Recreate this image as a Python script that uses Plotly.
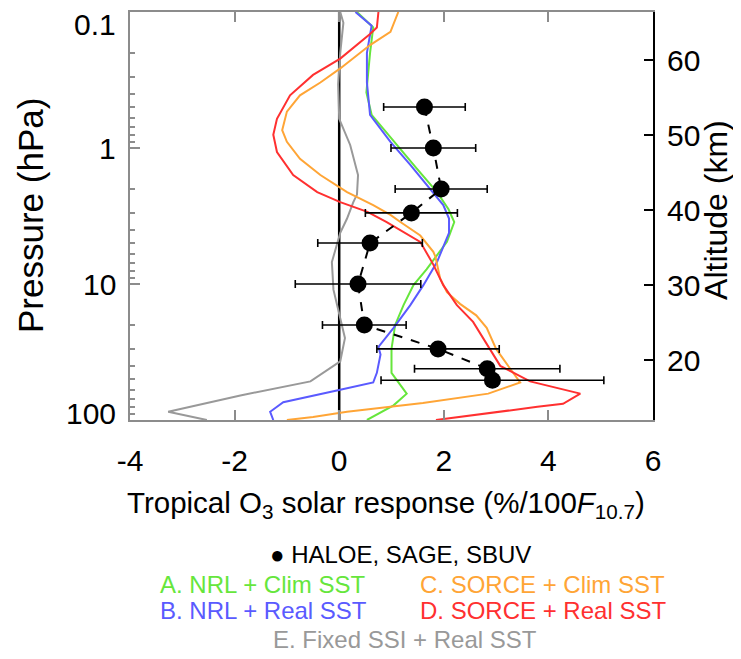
import math
import plotly.graph_objects as go

# ---------------- data ----------------
# A. NRL + Clim SST (green)
a_p = [0.1, 0.13, 0.2, 0.39, 0.57, 0.95, 1.41, 2.11, 2.82, 3.5, 4.9, 7.8, 10.2, 14.3, 20, 30, 45, 64, 78, 100]
a_v = [0.34, 0.65, 0.59, 0.52, 0.62, 1.10, 1.48, 1.87, 2.09, 2.20, 2.06, 1.67, 1.42, 1.23, 1.07, 1.00, 1.00, 1.29, 1.04, 0.53]

# B. NRL + Real SST (blue)
b_p = [0.1, 0.126, 0.2, 0.33, 0.57, 0.9, 1.33, 2.0, 2.63, 3.3, 4.2, 6.9, 10.2, 14.3, 21, 29, 33, 45, 53, 60, 74, 87, 100]
b_v = [0.31, 0.62, 0.53, 0.53, 0.59, 0.98, 1.36, 1.74, 1.99, 2.10, 2.10, 1.87, 1.61, 1.36, 1.04, 0.75, 0.79, 0.72, 0.65, 0.02, -1.07, -1.32, -1.26]

# C. SORCE + Clim SST (orange)
c_p = [0.1, 0.14, 0.175, 0.26, 0.33, 0.41, 0.54, 0.74, 0.9, 1.2, 1.58, 2.11, 2.63, 3.1, 3.5, 4.4, 5.8, 6.3, 9.1,
       11.5, 14, 17, 21, 30, 42, 53, 64, 75, 87, 95, 100]
c_v = [1.13, 0.98, 0.59, 0.02, -0.36, -0.75, -1.00, -1.09, -1.00, -0.75, -0.36, 0.15, 0.65, 0.98, 1.17, 1.55, 1.80, 1.84, 1.93,
       2.06, 2.31, 2.62, 2.82, 3.00, 3.27, 3.46, 2.85, 1.60, 0.15, -0.50, -1.00]

# D. SORCE + Real SST (red)
d_p = [0.1, 0.13, 0.145, 0.22, 0.29, 0.41, 0.61, 0.80, 1.07, 1.58, 2.11, 2.5, 2.95, 3.5, 4.9, 7.2, 10.2, 14.3,
       19, 25, 33, 40, 52, 64, 76, 80, 100]
d_v = [0.75, 0.72, 0.59, 0.02, -0.50, -0.94, -1.19, -1.26, -1.19, -0.88, -0.42, 0.02, 0.54, 0.90, 1.55, 1.80, 1.99, 2.25,
       2.56, 2.75, 2.94, 3.08, 3.65, 4.61, 4.28, 3.79, 1.85]

# E. Fixed SSI + Real SST (gray)
e_p = [0.1, 0.12, 0.2, 0.34, 0.61, 0.95, 1.58, 2.2, 2.5, 3.3, 4.2, 6.9, 11, 18, 25, 37, 52, 66, 87, 100]
e_v = [0.02, 0.08, 0.02, -0.02, 0.0, 0.21, 0.36, 0.34, 0.27, 0.15, 0.02, -0.14, -0.11, 0.02, 0.11, 0.02, -0.55, -1.89, -3.27, -2.53]

# Observations: HALOE, SAGE, SBUV
obs_p = [0.5, 1.0, 2.0, 3.0, 5.0, 10, 20, 30, 42, 51]
obs_v = [1.63, 1.80, 1.95, 1.38, 0.59, 0.36, 0.48, 1.89, 2.83, 2.93]
obs_err = [0.78, 0.81, 0.88, 0.88, 1.00, 1.20, 0.80, 1.17, 1.39, 2.13]

x_ticks = [-4, -2, 0, 2, 4, 6]
p_major = [0.1, 1, 10, 100]
p_labels = ["0.1", "1", "10", "100"]
p_minor = [0.2, 0.3, 0.4, 0.5, 0.6, 0.7, 0.8, 0.9, 2, 3, 4, 5, 6, 7, 8, 9, 20, 30, 40, 50, 60, 70, 80, 90]
alt_ticks = [20, 30, 40, 50, 60]
alt_range = [12.0, 66.4]   # altitude (km) at 100 hPa (bottom) and 0.1 hPa (top)

series = [
    ("A. NRL + Clim SST", a_p, a_v, "#66e63c"),
    ("B. NRL + Real SST", b_p, b_v, "#5a5aff"),
    ("C. SORCE + Clim SST", c_p, c_v, "#ffa536"),
    ("D. SORCE + Real SST", d_p, d_v, "#ff3030"),
    ("E. Fixed SSI + Real SST", e_p, e_v, "#999999"),
]

FONT = "Liberation Sans, Arial, Helvetica, sans-serif"

fig = go.Figure()

# zero line
fig.add_shape(type="line", xref="x", yref="paper", x0=0, x1=0, y0=0, y1=1,
              line=dict(color="black", width=2.5), layer="below")

for name, p, v, col in [series[4]] + series[:4]:
    fig.add_trace(go.Scatter(x=v, y=p, mode="lines", name=name,
                             line=dict(color=col, width=2), showlegend=False))

fig.add_trace(go.Scatter(
    x=obs_v, y=obs_p, mode="lines+markers", name="HALOE, SAGE, SBUV",
    line=dict(color="black", width=2, dash="dash"),
    marker=dict(color="black", size=17),
    error_x=dict(type="data", array=obs_err, color="black", thickness=1.6, width=4),
    showlegend=False))

# dummy trace to activate altitude axis
fig.add_trace(go.Scatter(x=[], y=[], yaxis="y2", showlegend=False))

gray_axis = "#8c8c8c"
fig.update_layout(
    width=733, height=651,
    margin=dict(l=122, r=88, t=2, b=239),
    paper_bgcolor="white", plot_bgcolor="white",
    font=dict(family=FONT, size=28, color="black"),
    xaxis=dict(range=[-4, 6], tickvals=x_ticks, ticktext=[str(t) for t in x_ticks],
               showgrid=False, zeroline=False, showline=True, linecolor=gray_axis, linewidth=2,
               mirror="ticks", ticks="inside", ticklen=10, tickwidth=2, tickcolor=gray_axis,
               ticklabelstandoff=13, tickfont=dict(size=30)),
    yaxis=dict(type="log", range=[math.log10(100), math.log10(0.1)],
               tickvals=p_major, showticklabels=False,
               showgrid=False, zeroline=False, showline=True, linecolor=gray_axis, linewidth=2,
               ticks="inside", ticklen=10, tickwidth=2, tickcolor=gray_axis,
               minor=dict(tickvals=p_minor, ticks="inside", ticklen=5, tickwidth=1.5, tickcolor=gray_axis, showgrid=False)),
    yaxis2=dict(overlaying="y", side="right", anchor="x", range=alt_range,
                tickvals=alt_ticks, showgrid=False, zeroline=False,
                showline=True, linecolor="black", linewidth=2,
                ticks="inside", ticklen=9, tickwidth=2, tickcolor="black",
                ticklabelstandoff=6, tickfont=dict(size=30)),
    showlegend=False,
)

anns = []
# pressure tick labels (end labels pulled inside the axis range)
label_shift = {"0.1": -12, "1": 0, "10": 0, "100": 7}
for val, lab in zip(p_major, p_labels):
    anns.append(dict(x=0, xref="paper", y=math.log10(val), yref="y", text=lab, showarrow=False,
                     xanchor="right", yanchor="middle", xshift=-12, yshift=label_shift[lab],
                     font=dict(size=30)))
# y titles
anns.append(dict(x=0, xref="paper", y=0.5, yref="paper", text="Pressure (hPa)", textangle=-90,
                 showarrow=False, xanchor="center", yanchor="middle", xshift=-100, font=dict(size=35)))
anns.append(dict(x=1, xref="paper", y=0.515, yref="paper", text="Altitude (km)", textangle=-90,
                 showarrow=False, xanchor="center", yanchor="middle", xshift=63, font=dict(size=32)))
# x title
anns.append(dict(x=0.49, xref="paper", y=-0.207, yref="paper",
                 text="Tropical O<sub>3</sub> solar response (%/100<i>F</i><sub>10.7</sub>)",
                 showarrow=False, xanchor="center", yanchor="middle", font=dict(size=29.5)))
# legend as text
anns.append(dict(x=0.518, xref="paper", y=-0.329, yref="paper", text="\u25cf HALOE, SAGE, SBUV",
                 showarrow=False, xanchor="center", yanchor="middle", font=dict(size=24, color="black")))
leg_pos = {
    "A. NRL + Clim SST": (0.054, -0.402, "left"),
    "C. SORCE + Clim SST": (0.551, -0.402, "left"),
    "B. NRL + Real SST": (0.054, -0.468, "left"),
    "D. SORCE + Real SST": (0.551, -0.468, "left"),
    "E. Fixed SSI + Real SST": (0.526, -0.537, "center"),
}
for name, p, v, col in series:
    lx, ly, xa = leg_pos[name]
    anns.append(dict(x=lx, xref="paper", y=ly, yref="paper", text=name, showarrow=False,
                     xanchor=xa, yanchor="middle", font=dict(size=24, color=col)))
fig.update_layout(annotations=anns)

fig.write_html("out.html")
